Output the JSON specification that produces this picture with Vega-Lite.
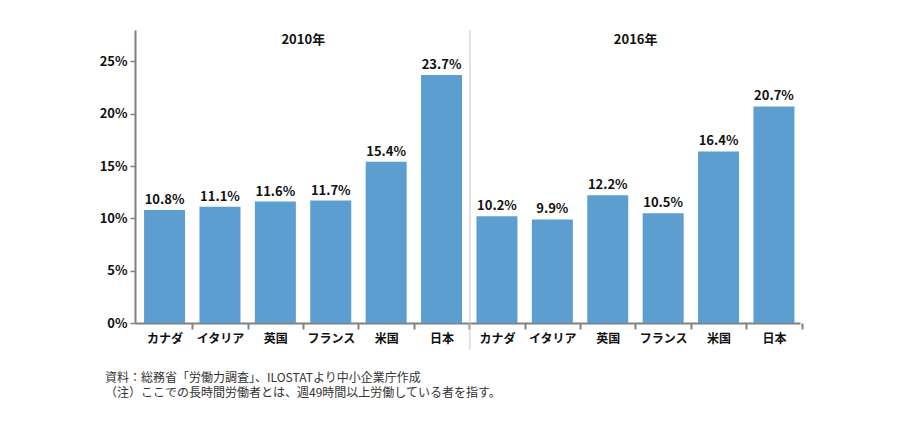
{
  "$schema": "https://vega.github.io/schema/vega-lite/v6.json",
  "autosize": {"type": "none"},
  "width": 665,
  "height": 293,
  "padding": {"left": 135, "top": 30, "right": 100, "bottom": 107},
  "background": "white",
  "title": {
    "text": "資料：総務省「労働力調査」、ILOSTATより中小企業庁作成",
    "subtitle": "（注）ここでの長時間労働者とは、週49時間以上労働している者を指す。",
    "orient": "bottom",
    "anchor": "start",
    "frame": "group",
    "dx": -30,
    "offset": 22,
    "font": "Noto Sans CJK JP",
    "fontSize": 12,
    "fontWeight": "normal",
    "color": "#333333",
    "subtitleFont": "Noto Sans CJK JP",
    "subtitleFontSize": 12,
    "subtitleFontWeight": "normal",
    "subtitleColor": "#333333",
    "subtitlePadding": 3
  },
  "datasets": {
    "bars": [
      {"key": "2010|カナダ", "year": "2010年", "country": "カナダ", "value": 10.8},
      {"key": "2010|イタリア", "year": "2010年", "country": "イタリア", "value": 11.1},
      {"key": "2010|英国", "year": "2010年", "country": "英国", "value": 11.6},
      {"key": "2010|フランス", "year": "2010年", "country": "フランス", "value": 11.7},
      {"key": "2010|米国", "year": "2010年", "country": "米国", "value": 15.4},
      {"key": "2010|日本", "year": "2010年", "country": "日本", "value": 23.7},
      {"key": "2016|カナダ", "year": "2016年", "country": "カナダ", "value": 10.2},
      {"key": "2016|イタリア", "year": "2016年", "country": "イタリア", "value": 9.9},
      {"key": "2016|英国", "year": "2016年", "country": "英国", "value": 12.2},
      {"key": "2016|フランス", "year": "2016年", "country": "フランス", "value": 10.5},
      {"key": "2016|米国", "year": "2016年", "country": "米国", "value": 16.4},
      {"key": "2016|日本", "year": "2016年", "country": "日本", "value": 20.7}
    ],
    "headers": [
      {"key": "2010|フランス", "label": "2010年"},
      {"key": "2016|フランス", "label": "2016年"}
    ],
    "divider": [
      {"key": "2016|カナダ"}
    ]
  },
  "encoding": {
    "x": {
      "field": "key", "type": "nominal",
      "scale": {
        "domain": ["2010|カナダ", "2010|イタリア", "2010|英国", "2010|フランス", "2010|米国", "2010|日本", "2016|カナダ", "2016|イタリア", "2016|英国", "2016|フランス", "2016|米国", "2016|日本"],
        "paddingInner": 0.26, "paddingOuter": 0.132, "align": 0.62
      },
      "axis": {
        "title": null,
        "tickOffset": 27.7,
        "labelOffset": -27.7,
        "labelAngle": 0,
        "labelExpr": "split(datum.label, '|')[1]",
        "labelFont": "Noto Sans CJK JP",
        "labelFontSize": 12,
        "labelFontWeight": "bold",
        "labelColor": "#111111",
        "labelPadding": 4,
        "domainColor": "#808080",
        "domainWidth": 2,
        "tickColor": "#808080",
        "tickWidth": 2,
        "tickSize": 6
      }
    }
  },
  "layer": [
    {
      "data": {"name": "bars"},
      "mark": {"type": "bar", "color": "#5b9ecf"},
      "encoding": {
        "y": {
          "field": "value", "type": "quantitative",
          "scale": {"domain": [0, 28], "nice": false},
          "axis": {
            "title": null,
            "values": [0, 5, 10, 15, 20, 25],
            "labelExpr": "datum.value + '%'",
            "grid": false,
            "labelFont": "Noto Sans CJK JP",
            "labelFontSize": 13,
            "labelFontWeight": "bold",
            "labelColor": "#111111",
            "labelPadding": 3,
            "domainColor": "#808080",
            "domainWidth": 2,
            "tickColor": "#808080",
            "tickWidth": 1.5,
            "tickSize": 5
          }
        }
      }
    },
    {
      "data": {"name": "bars"},
      "mark": {"type": "text", "dy": -10, "font": "Noto Sans CJK JP", "fontSize": 13, "fontWeight": "bold", "color": "#111111", "text": {"expr": "format(datum.value, '.1f') + '%'"}},
      "encoding": {
        "y": {"field": "value", "type": "quantitative"}
      }
    },
    {
      "data": {"name": "divider"},
      "mark": {"type": "rule", "color": "#c8c8c8", "strokeWidth": 1},
      "encoding": {
        "x": {"field": "key", "type": "nominal", "bandPosition": -0.16},
        "y": {"datum": 28},
        "y2": {"datum": -2.6}
      }
    },
    {
      "data": {"name": "headers"},
      "mark": {"type": "text", "font": "Noto Sans CJK JP", "fontSize": 13, "fontWeight": "bold", "color": "#111111", "baseline": "middle"},
      "encoding": {
        "x": {"field": "key", "type": "nominal", "bandPosition": -0.17},
        "y": {"datum": 27},
        "text": {"field": "label"}
      }
    }
  ],
  "config": {
    "view": {"stroke": null}
  }
}
